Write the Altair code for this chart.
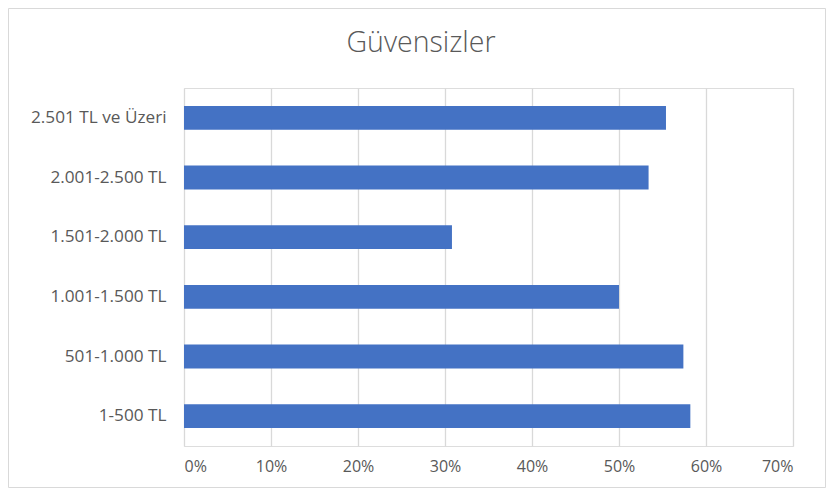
import altair as alt
import pandas as pd

categories = ["2.501 TL ve Üzeri", "2.001-2.500 TL", "1.501-2.000 TL",
              "1.001-1.500 TL", "501-1.000 TL", "1-500 TL"]
values = [0.554, 0.534, 0.308, 0.500, 0.574, 0.582]
x_ticks = [0, 0.1, 0.2, 0.3, 0.4, 0.5, 0.6, 0.7]
title_text = "Güvensizler"

df = pd.DataFrame({"kategori": categories, "deger": values})

W, H = 609, 358
PL, PT, PR, PB = 176, 80, 33, 42

bars = alt.Chart(df).mark_bar(color="#4472C4").encode(
    y=alt.Y("kategori:N", sort=categories,
            scale=alt.Scale(paddingInner=0.6, paddingOuter=0.3),
            axis=alt.Axis(title=None, domain=False, ticks=False, labelPadding=18,
                          labelFontSize=17.2, labelColor="#595959", labelFont="Open Sans",
                          grid=False)),
    x=alt.X("deger:Q", scale=alt.Scale(domain=[0, 0.7], nice=False),
            axis=alt.Axis(title=None, values=x_ticks, format=".0%", domain=False,
                          ticks=False, labelPadding=12, labelFontSize=16,
                          labelColor="#595959", labelFont="Open Sans",
                          grid=True, gridColor="#d9d9d9", gridWidth=1.3)),
)

border = alt.Chart(pd.DataFrame({"a": [0]})).mark_rect(
    fill=None, stroke="#d9d9d9", strokeWidth=1, clip=False
).encode(
    x=alt.value(-PL + 0.5), x2=alt.value(W + PR - 0.5),
    y=alt.value(-PT + 0.5), y2=alt.value(H + PB - 0.5),
)

title = alt.Chart(pd.DataFrame({"t": [title_text]})).mark_text(
    font="Open Sans", fontSize=28.5, fontWeight=300, color="#595959",
    align="center", baseline="alphabetic", clip=False
).encode(
    text="t:N", x=alt.value(421 - 184), y=alt.value(52 - 88),
)

chart = alt.layer(border, bars, title).properties(
    width=W, height=H,
    autosize=alt.AutoSizeParams(type="none"),
    padding={"left": PL, "top": PT, "right": PR, "bottom": PB},
).configure_view(stroke=None).configure(background="white")

chart.save("out.html", embed_options={"renderer": "svg", "actions": False})
